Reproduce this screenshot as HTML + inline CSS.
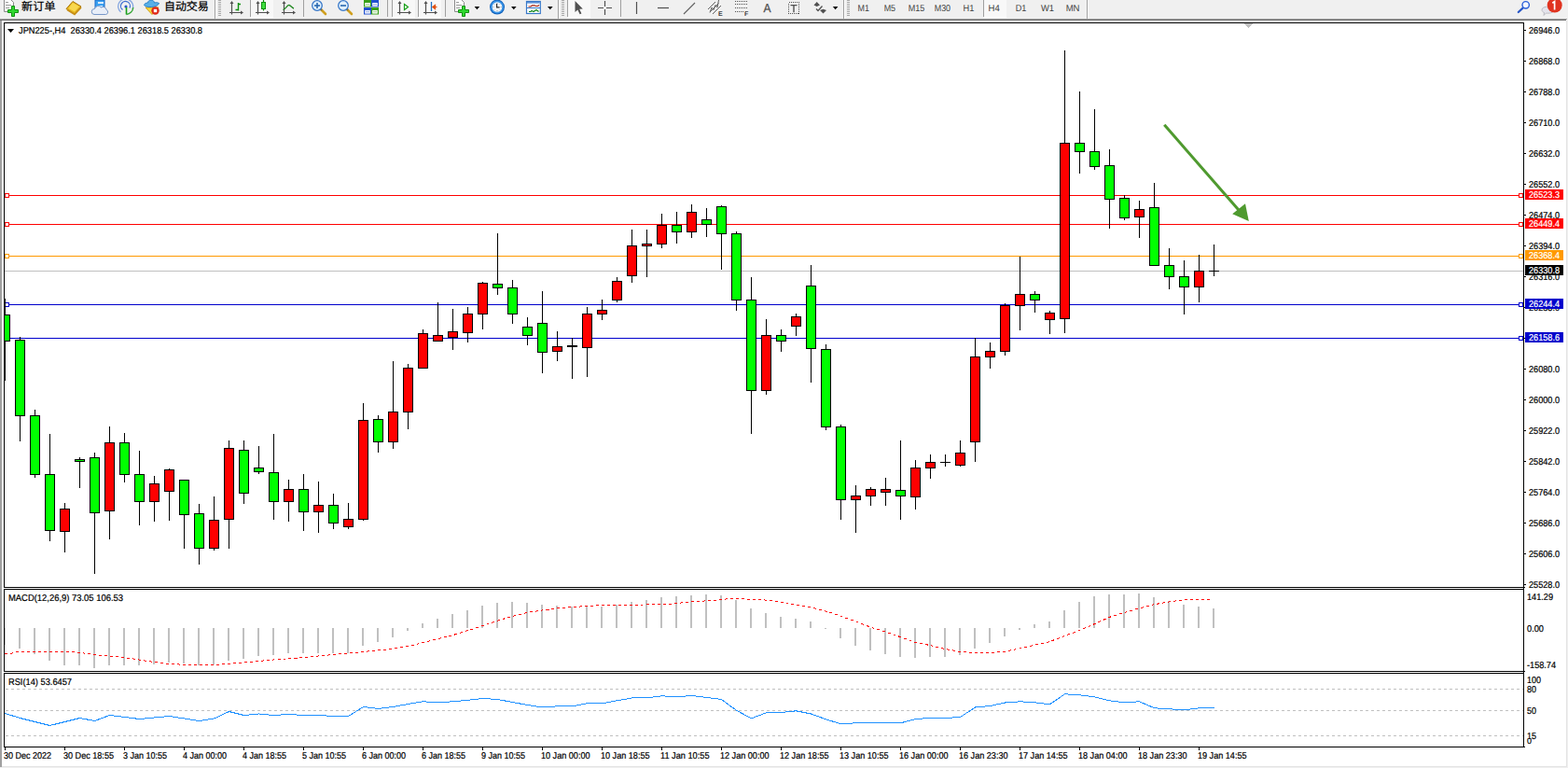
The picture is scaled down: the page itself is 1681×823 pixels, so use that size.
<!DOCTYPE html><html><head><meta charset="utf-8"><title>JPN225 H4</title><style>html,body{margin:0;padding:0;background:#fff;overflow:hidden}</style></head><body><svg width="1681" height="823" viewBox="0 0 1681 823" style="display:block" text-rendering="geometricPrecision" font-family="Liberation Sans, sans-serif" font-size="10">
<g shape-rendering="crispEdges">
<rect x="0" y="0" width="1681" height="823" fill="#fff"/>
<rect x="0" y="0" width="1681" height="20" fill="#f0f0f0"/>
<rect x="0" y="20" width="1680" height="1" fill="#a0a0a0"/>
<rect x="0" y="21" width="1679" height="1" fill="#696969"/>
<rect x="0" y="22" width="2" height="800" fill="#a0a0a0"/>
<rect x="1679" y="22" width="1" height="800" fill="#e3e3e3"/>
<rect x="1680" y="20" width="1" height="803" fill="#f0f0f0"/>
<rect x="2" y="821" width="1678" height="1" fill="#e3e3e3"/>
<rect x="0" y="822" width="1681" height="1" fill="#f0f0f0"/>
<rect x="5" y="290" width="1628" height="1" fill="#c0c0c0"/>
<rect x="5" y="209" width="1628" height="1" fill="#ff0000"/>
<rect x="5" y="207" width="5" height="5" fill="#ff0000"/>
<rect x="6" y="208" width="3" height="3" fill="#fff"/>
<rect x="1628" y="207" width="5" height="5" fill="#ff0000"/>
<rect x="1629" y="208" width="3" height="3" fill="#fff"/>
<rect x="5" y="240" width="1628" height="1" fill="#ff0000"/>
<rect x="5" y="238" width="5" height="5" fill="#ff0000"/>
<rect x="6" y="239" width="3" height="3" fill="#fff"/>
<rect x="1628" y="238" width="5" height="5" fill="#ff0000"/>
<rect x="1629" y="239" width="3" height="3" fill="#fff"/>
<rect x="5" y="274" width="1628" height="1" fill="#ff9900"/>
<rect x="5" y="272" width="5" height="5" fill="#ff9900"/>
<rect x="6" y="273" width="3" height="3" fill="#fff"/>
<rect x="1628" y="272" width="5" height="5" fill="#ff9900"/>
<rect x="1629" y="273" width="3" height="3" fill="#fff"/>
<rect x="5" y="326" width="1628" height="1" fill="#0000cc"/>
<rect x="5" y="324" width="5" height="5" fill="#0000cc"/>
<rect x="6" y="325" width="3" height="3" fill="#fff"/>
<rect x="1628" y="324" width="5" height="5" fill="#0000cc"/>
<rect x="1629" y="325" width="3" height="3" fill="#fff"/>
<rect x="5" y="362" width="1628" height="1" fill="#0000cc"/>
<rect x="5" y="360" width="5" height="5" fill="#0000cc"/>
<rect x="6" y="361" width="3" height="3" fill="#fff"/>
<rect x="1628" y="360" width="5" height="5" fill="#0000cc"/>
<rect x="1629" y="361" width="3" height="3" fill="#fff"/>
<clipPath id="cm"><rect x="5" y="25" width="1628" height="604"/></clipPath><g clip-path="url(#cm)">
<rect x="5" y="320" width="1" height="88" fill="#000"/>
<rect x="0" y="337" width="11" height="29" fill="#000"/>
<rect x="1" y="338" width="9" height="27" fill="#00ff00"/>
<rect x="21" y="361" width="1" height="112" fill="#000"/>
<rect x="16" y="364" width="11" height="82" fill="#000"/>
<rect x="17" y="365" width="9" height="80" fill="#00ff00"/>
<rect x="37" y="439" width="1" height="73" fill="#000"/>
<rect x="32" y="445" width="11" height="64" fill="#000"/>
<rect x="33" y="446" width="9" height="62" fill="#00ff00"/>
<rect x="53" y="465" width="1" height="115" fill="#000"/>
<rect x="48" y="508" width="11" height="61" fill="#000"/>
<rect x="49" y="509" width="9" height="59" fill="#00ff00"/>
<rect x="69" y="539" width="1" height="53" fill="#000"/>
<rect x="64" y="545" width="11" height="25" fill="#000"/>
<rect x="65" y="546" width="9" height="23" fill="#ff0000"/>
<rect x="85" y="490" width="1" height="33" fill="#000"/>
<rect x="80" y="492" width="11" height="3" fill="#000"/>
<rect x="81" y="493" width="9" height="1" fill="#00ff00"/>
<rect x="101" y="485" width="1" height="130" fill="#000"/>
<rect x="96" y="490" width="11" height="60" fill="#000"/>
<rect x="97" y="491" width="9" height="58" fill="#00ff00"/>
<rect x="117" y="457" width="1" height="121" fill="#000"/>
<rect x="112" y="474" width="11" height="74" fill="#000"/>
<rect x="113" y="475" width="9" height="72" fill="#ff0000"/>
<rect x="133" y="464" width="1" height="53" fill="#000"/>
<rect x="128" y="474" width="11" height="35" fill="#000"/>
<rect x="129" y="475" width="9" height="33" fill="#00ff00"/>
<rect x="149" y="483" width="1" height="80" fill="#000"/>
<rect x="144" y="508" width="11" height="30" fill="#000"/>
<rect x="145" y="509" width="9" height="28" fill="#00ff00"/>
<rect x="165" y="510" width="1" height="49" fill="#000"/>
<rect x="160" y="518" width="11" height="20" fill="#000"/>
<rect x="161" y="519" width="9" height="18" fill="#ff0000"/>
<rect x="181" y="502" width="1" height="56" fill="#000"/>
<rect x="176" y="503" width="11" height="24" fill="#000"/>
<rect x="177" y="504" width="9" height="22" fill="#ff0000"/>
<rect x="197" y="514" width="1" height="74" fill="#000"/>
<rect x="192" y="514" width="11" height="38" fill="#000"/>
<rect x="193" y="515" width="9" height="36" fill="#00ff00"/>
<rect x="213" y="540" width="1" height="65" fill="#000"/>
<rect x="208" y="550" width="11" height="38" fill="#000"/>
<rect x="209" y="551" width="9" height="36" fill="#00ff00"/>
<rect x="229" y="532" width="1" height="58" fill="#000"/>
<rect x="224" y="557" width="11" height="31" fill="#000"/>
<rect x="225" y="558" width="9" height="29" fill="#ff0000"/>
<rect x="245" y="472" width="1" height="116" fill="#000"/>
<rect x="240" y="480" width="11" height="77" fill="#000"/>
<rect x="241" y="481" width="9" height="75" fill="#ff0000"/>
<rect x="261" y="472" width="1" height="68" fill="#000"/>
<rect x="256" y="482" width="11" height="47" fill="#000"/>
<rect x="257" y="483" width="9" height="45" fill="#00ff00"/>
<rect x="277" y="478" width="1" height="30" fill="#000"/>
<rect x="272" y="501" width="11" height="5" fill="#000"/>
<rect x="273" y="502" width="9" height="3" fill="#00ff00"/>
<rect x="293" y="465" width="1" height="92" fill="#000"/>
<rect x="288" y="506" width="11" height="32" fill="#000"/>
<rect x="289" y="507" width="9" height="30" fill="#00ff00"/>
<rect x="309" y="514" width="1" height="45" fill="#000"/>
<rect x="304" y="524" width="11" height="14" fill="#000"/>
<rect x="305" y="525" width="9" height="12" fill="#ff0000"/>
<rect x="325" y="508" width="1" height="61" fill="#000"/>
<rect x="320" y="524" width="11" height="25" fill="#000"/>
<rect x="321" y="525" width="9" height="23" fill="#00ff00"/>
<rect x="341" y="516" width="1" height="55" fill="#000"/>
<rect x="336" y="541" width="11" height="8" fill="#000"/>
<rect x="337" y="542" width="9" height="6" fill="#ff0000"/>
<rect x="357" y="529" width="1" height="38" fill="#000"/>
<rect x="352" y="541" width="11" height="20" fill="#000"/>
<rect x="353" y="542" width="9" height="18" fill="#00ff00"/>
<rect x="373" y="539" width="1" height="28" fill="#000"/>
<rect x="368" y="556" width="11" height="9" fill="#000"/>
<rect x="369" y="557" width="9" height="7" fill="#ff0000"/>
<rect x="389" y="432" width="1" height="126" fill="#000"/>
<rect x="384" y="450" width="11" height="107" fill="#000"/>
<rect x="385" y="451" width="9" height="105" fill="#ff0000"/>
<rect x="405" y="445" width="1" height="40" fill="#000"/>
<rect x="400" y="449" width="11" height="25" fill="#000"/>
<rect x="401" y="450" width="9" height="23" fill="#00ff00"/>
<rect x="421" y="387" width="1" height="94" fill="#000"/>
<rect x="416" y="441" width="11" height="33" fill="#000"/>
<rect x="417" y="442" width="9" height="31" fill="#ff0000"/>
<rect x="437" y="390" width="1" height="70" fill="#000"/>
<rect x="432" y="394" width="11" height="48" fill="#000"/>
<rect x="433" y="395" width="9" height="46" fill="#ff0000"/>
<rect x="453" y="353" width="1" height="42" fill="#000"/>
<rect x="448" y="357" width="11" height="38" fill="#000"/>
<rect x="449" y="358" width="9" height="36" fill="#ff0000"/>
<rect x="469" y="324" width="1" height="42" fill="#000"/>
<rect x="464" y="359" width="11" height="7" fill="#000"/>
<rect x="465" y="360" width="9" height="5" fill="#ff0000"/>
<rect x="485" y="331" width="1" height="44" fill="#000"/>
<rect x="480" y="355" width="11" height="7" fill="#000"/>
<rect x="481" y="356" width="9" height="5" fill="#ff0000"/>
<rect x="501" y="329" width="1" height="38" fill="#000"/>
<rect x="496" y="336" width="11" height="21" fill="#000"/>
<rect x="497" y="337" width="9" height="19" fill="#ff0000"/>
<rect x="517" y="302" width="1" height="51" fill="#000"/>
<rect x="512" y="303" width="11" height="34" fill="#000"/>
<rect x="513" y="304" width="9" height="32" fill="#ff0000"/>
<rect x="533" y="250" width="1" height="66" fill="#000"/>
<rect x="528" y="304" width="11" height="5" fill="#000"/>
<rect x="529" y="305" width="9" height="3" fill="#00ff00"/>
<rect x="549" y="300" width="1" height="47" fill="#000"/>
<rect x="544" y="308" width="11" height="29" fill="#000"/>
<rect x="545" y="309" width="9" height="27" fill="#00ff00"/>
<rect x="565" y="340" width="1" height="30" fill="#000"/>
<rect x="560" y="350" width="11" height="10" fill="#000"/>
<rect x="561" y="351" width="9" height="8" fill="#00ff00"/>
<rect x="581" y="312" width="1" height="88" fill="#000"/>
<rect x="576" y="346" width="11" height="32" fill="#000"/>
<rect x="577" y="347" width="9" height="30" fill="#00ff00"/>
<rect x="597" y="355" width="1" height="32" fill="#000"/>
<rect x="592" y="371" width="11" height="6" fill="#000"/>
<rect x="593" y="372" width="9" height="4" fill="#ff0000"/>
<rect x="613" y="362" width="1" height="44" fill="#000"/>
<rect x="608" y="370" width="11" height="2" fill="#000"/>
<rect x="629" y="329" width="1" height="75" fill="#000"/>
<rect x="624" y="336" width="11" height="37" fill="#000"/>
<rect x="625" y="337" width="9" height="35" fill="#ff0000"/>
<rect x="645" y="321" width="1" height="22" fill="#000"/>
<rect x="640" y="332" width="11" height="5" fill="#000"/>
<rect x="641" y="333" width="9" height="3" fill="#ff0000"/>
<rect x="661" y="297" width="1" height="27" fill="#000"/>
<rect x="656" y="301" width="11" height="21" fill="#000"/>
<rect x="657" y="302" width="9" height="19" fill="#ff0000"/>
<rect x="677" y="246" width="1" height="57" fill="#000"/>
<rect x="672" y="263" width="11" height="33" fill="#000"/>
<rect x="673" y="264" width="9" height="31" fill="#ff0000"/>
<rect x="693" y="246" width="1" height="51" fill="#000"/>
<rect x="688" y="261" width="11" height="3" fill="#000"/>
<rect x="689" y="262" width="9" height="1" fill="#ff0000"/>
<rect x="709" y="229" width="1" height="37" fill="#000"/>
<rect x="704" y="241" width="11" height="21" fill="#000"/>
<rect x="705" y="242" width="9" height="19" fill="#ff0000"/>
<rect x="725" y="227" width="1" height="34" fill="#000"/>
<rect x="720" y="241" width="11" height="8" fill="#000"/>
<rect x="721" y="242" width="9" height="6" fill="#00ff00"/>
<rect x="741" y="219" width="1" height="36" fill="#000"/>
<rect x="736" y="227" width="11" height="22" fill="#000"/>
<rect x="737" y="228" width="9" height="20" fill="#ff0000"/>
<rect x="757" y="223" width="1" height="31" fill="#000"/>
<rect x="752" y="235" width="11" height="6" fill="#000"/>
<rect x="753" y="236" width="9" height="4" fill="#00ff00"/>
<rect x="773" y="220" width="1" height="69" fill="#000"/>
<rect x="768" y="221" width="11" height="30" fill="#000"/>
<rect x="769" y="222" width="9" height="28" fill="#00ff00"/>
<rect x="789" y="248" width="1" height="85" fill="#000"/>
<rect x="784" y="250" width="11" height="72" fill="#000"/>
<rect x="785" y="251" width="9" height="70" fill="#00ff00"/>
<rect x="805" y="297" width="1" height="168" fill="#000"/>
<rect x="800" y="321" width="11" height="98" fill="#000"/>
<rect x="801" y="322" width="9" height="96" fill="#00ff00"/>
<rect x="821" y="342" width="1" height="81" fill="#000"/>
<rect x="816" y="359" width="11" height="60" fill="#000"/>
<rect x="817" y="360" width="9" height="58" fill="#ff0000"/>
<rect x="837" y="353" width="1" height="24" fill="#000"/>
<rect x="832" y="359" width="11" height="7" fill="#000"/>
<rect x="833" y="360" width="9" height="5" fill="#00ff00"/>
<rect x="853" y="336" width="1" height="24" fill="#000"/>
<rect x="848" y="339" width="11" height="11" fill="#000"/>
<rect x="849" y="340" width="9" height="9" fill="#ff0000"/>
<rect x="869" y="284" width="1" height="126" fill="#000"/>
<rect x="864" y="306" width="11" height="68" fill="#000"/>
<rect x="865" y="307" width="9" height="66" fill="#00ff00"/>
<rect x="885" y="369" width="1" height="92" fill="#000"/>
<rect x="880" y="374" width="11" height="84" fill="#000"/>
<rect x="881" y="375" width="9" height="82" fill="#00ff00"/>
<rect x="901" y="455" width="1" height="102" fill="#000"/>
<rect x="896" y="457" width="11" height="79" fill="#000"/>
<rect x="897" y="458" width="9" height="77" fill="#00ff00"/>
<rect x="917" y="520" width="1" height="51" fill="#000"/>
<rect x="912" y="531" width="11" height="5" fill="#000"/>
<rect x="913" y="532" width="9" height="3" fill="#ff0000"/>
<rect x="933" y="522" width="1" height="20" fill="#000"/>
<rect x="928" y="524" width="11" height="8" fill="#000"/>
<rect x="929" y="525" width="9" height="6" fill="#ff0000"/>
<rect x="949" y="512" width="1" height="30" fill="#000"/>
<rect x="944" y="524" width="11" height="4" fill="#000"/>
<rect x="945" y="525" width="9" height="2" fill="#ff0000"/>
<rect x="965" y="472" width="1" height="85" fill="#000"/>
<rect x="960" y="525" width="11" height="7" fill="#000"/>
<rect x="961" y="526" width="9" height="5" fill="#00ff00"/>
<rect x="981" y="493" width="1" height="53" fill="#000"/>
<rect x="976" y="501" width="11" height="32" fill="#000"/>
<rect x="977" y="502" width="9" height="30" fill="#ff0000"/>
<rect x="997" y="487" width="1" height="26" fill="#000"/>
<rect x="992" y="495" width="11" height="7" fill="#000"/>
<rect x="993" y="496" width="9" height="5" fill="#ff0000"/>
<rect x="1013" y="487" width="1" height="13" fill="#000"/>
<rect x="1008" y="495" width="11" height="1" fill="#000"/>
<rect x="1029" y="472" width="1" height="28" fill="#000"/>
<rect x="1024" y="485" width="11" height="14" fill="#000"/>
<rect x="1025" y="486" width="9" height="12" fill="#ff0000"/>
<rect x="1045" y="362" width="1" height="133" fill="#000"/>
<rect x="1040" y="382" width="11" height="92" fill="#000"/>
<rect x="1041" y="383" width="9" height="90" fill="#ff0000"/>
<rect x="1061" y="367" width="1" height="28" fill="#000"/>
<rect x="1056" y="376" width="11" height="7" fill="#000"/>
<rect x="1057" y="377" width="9" height="5" fill="#ff0000"/>
<rect x="1077" y="325" width="1" height="56" fill="#000"/>
<rect x="1072" y="327" width="11" height="50" fill="#000"/>
<rect x="1073" y="328" width="9" height="48" fill="#ff0000"/>
<rect x="1093" y="275" width="1" height="79" fill="#000"/>
<rect x="1088" y="315" width="11" height="13" fill="#000"/>
<rect x="1089" y="316" width="9" height="11" fill="#ff0000"/>
<rect x="1109" y="312" width="1" height="23" fill="#000"/>
<rect x="1104" y="315" width="11" height="7" fill="#000"/>
<rect x="1105" y="316" width="9" height="5" fill="#00ff00"/>
<rect x="1125" y="333" width="1" height="25" fill="#000"/>
<rect x="1120" y="335" width="11" height="8" fill="#000"/>
<rect x="1121" y="336" width="9" height="6" fill="#ff0000"/>
<rect x="1141" y="54" width="1" height="303" fill="#000"/>
<rect x="1136" y="153" width="11" height="189" fill="#000"/>
<rect x="1137" y="154" width="9" height="187" fill="#ff0000"/>
<rect x="1157" y="98" width="1" height="88" fill="#000"/>
<rect x="1152" y="153" width="11" height="10" fill="#000"/>
<rect x="1153" y="154" width="9" height="8" fill="#00ff00"/>
<rect x="1173" y="117" width="1" height="65" fill="#000"/>
<rect x="1168" y="162" width="11" height="17" fill="#000"/>
<rect x="1169" y="163" width="9" height="15" fill="#00ff00"/>
<rect x="1189" y="160" width="1" height="85" fill="#000"/>
<rect x="1184" y="177" width="11" height="37" fill="#000"/>
<rect x="1185" y="178" width="9" height="35" fill="#00ff00"/>
<rect x="1205" y="209" width="1" height="27" fill="#000"/>
<rect x="1200" y="212" width="11" height="22" fill="#000"/>
<rect x="1201" y="213" width="9" height="20" fill="#00ff00"/>
<rect x="1221" y="215" width="1" height="40" fill="#000"/>
<rect x="1216" y="224" width="11" height="9" fill="#000"/>
<rect x="1217" y="225" width="9" height="7" fill="#ff0000"/>
<rect x="1237" y="196" width="1" height="89" fill="#000"/>
<rect x="1232" y="222" width="11" height="63" fill="#000"/>
<rect x="1233" y="223" width="9" height="61" fill="#00ff00"/>
<rect x="1253" y="266" width="1" height="44" fill="#000"/>
<rect x="1248" y="284" width="11" height="13" fill="#000"/>
<rect x="1249" y="285" width="9" height="11" fill="#00ff00"/>
<rect x="1269" y="279" width="1" height="58" fill="#000"/>
<rect x="1264" y="296" width="11" height="12" fill="#000"/>
<rect x="1265" y="297" width="9" height="10" fill="#00ff00"/>
<rect x="1285" y="273" width="1" height="51" fill="#000"/>
<rect x="1280" y="290" width="11" height="18" fill="#000"/>
<rect x="1281" y="291" width="9" height="16" fill="#ff0000"/>
<rect x="1301" y="262" width="1" height="34" fill="#000"/>
<rect x="1296" y="290" width="11" height="1" fill="#000"/>
</g>
<path d="M1334 25h9l-4.5 5z" fill="#c0c0c0"/>
<rect x="4" y="24" width="1630" height="1" fill="#000"/>
<rect x="4" y="629" width="1631" height="1" fill="#000"/>
<rect x="4" y="24" width="1" height="606" fill="#000"/>
<rect x="4" y="631" width="1630" height="1" fill="#000"/>
<rect x="4" y="719" width="1631" height="1" fill="#000"/>
<rect x="4" y="631" width="1" height="89" fill="#000"/>
<rect x="4" y="721" width="1630" height="1" fill="#000"/>
<rect x="4" y="800" width="1631" height="1" fill="#000"/>
<rect x="4" y="721" width="1" height="80" fill="#000"/>
<rect x="1633" y="24" width="1" height="777" fill="#000"/>
<rect x="5" y="673" width="1" height="18" fill="#c0c0c0"/>
<rect x="20" y="673" width="2" height="22" fill="#c0c0c0"/>
<rect x="36" y="673" width="2" height="28" fill="#c0c0c0"/>
<rect x="52" y="673" width="2" height="35" fill="#c0c0c0"/>
<rect x="68" y="673" width="2" height="40" fill="#c0c0c0"/>
<rect x="84" y="673" width="2" height="40" fill="#c0c0c0"/>
<rect x="100" y="673" width="2" height="43" fill="#c0c0c0"/>
<rect x="116" y="673" width="2" height="40" fill="#c0c0c0"/>
<rect x="132" y="673" width="2" height="40" fill="#c0c0c0"/>
<rect x="148" y="673" width="2" height="40" fill="#c0c0c0"/>
<rect x="164" y="673" width="2" height="39" fill="#c0c0c0"/>
<rect x="180" y="673" width="2" height="37" fill="#c0c0c0"/>
<rect x="196" y="673" width="2" height="38" fill="#c0c0c0"/>
<rect x="212" y="673" width="2" height="40" fill="#c0c0c0"/>
<rect x="228" y="673" width="2" height="39" fill="#c0c0c0"/>
<rect x="244" y="673" width="2" height="35" fill="#c0c0c0"/>
<rect x="260" y="673" width="2" height="33" fill="#c0c0c0"/>
<rect x="276" y="673" width="2" height="30" fill="#c0c0c0"/>
<rect x="292" y="673" width="2" height="29" fill="#c0c0c0"/>
<rect x="308" y="673" width="2" height="27" fill="#c0c0c0"/>
<rect x="324" y="673" width="2" height="27" fill="#c0c0c0"/>
<rect x="340" y="673" width="2" height="27" fill="#c0c0c0"/>
<rect x="356" y="673" width="2" height="27" fill="#c0c0c0"/>
<rect x="372" y="673" width="2" height="27" fill="#c0c0c0"/>
<rect x="388" y="673" width="2" height="19" fill="#c0c0c0"/>
<rect x="404" y="673" width="2" height="15" fill="#c0c0c0"/>
<rect x="420" y="673" width="2" height="10" fill="#c0c0c0"/>
<rect x="436" y="673" width="2" height="3" fill="#c0c0c0"/>
<rect x="452" y="668" width="2" height="5" fill="#c0c0c0"/>
<rect x="468" y="663" width="2" height="10" fill="#c0c0c0"/>
<rect x="484" y="658" width="2" height="15" fill="#c0c0c0"/>
<rect x="500" y="654" width="2" height="19" fill="#c0c0c0"/>
<rect x="516" y="649" width="2" height="24" fill="#c0c0c0"/>
<rect x="532" y="646" width="2" height="27" fill="#c0c0c0"/>
<rect x="548" y="645" width="2" height="28" fill="#c0c0c0"/>
<rect x="564" y="646" width="2" height="27" fill="#c0c0c0"/>
<rect x="580" y="648" width="2" height="25" fill="#c0c0c0"/>
<rect x="596" y="649" width="2" height="24" fill="#c0c0c0"/>
<rect x="612" y="650" width="2" height="23" fill="#c0c0c0"/>
<rect x="628" y="649" width="2" height="24" fill="#c0c0c0"/>
<rect x="644" y="650" width="2" height="23" fill="#c0c0c0"/>
<rect x="660" y="648" width="2" height="25" fill="#c0c0c0"/>
<rect x="676" y="645" width="2" height="28" fill="#c0c0c0"/>
<rect x="692" y="643" width="2" height="30" fill="#c0c0c0"/>
<rect x="708" y="640" width="2" height="33" fill="#c0c0c0"/>
<rect x="724" y="639" width="2" height="34" fill="#c0c0c0"/>
<rect x="740" y="638" width="2" height="35" fill="#c0c0c0"/>
<rect x="756" y="637" width="2" height="36" fill="#c0c0c0"/>
<rect x="772" y="638" width="2" height="35" fill="#c0c0c0"/>
<rect x="788" y="643" width="2" height="30" fill="#c0c0c0"/>
<rect x="804" y="652" width="2" height="21" fill="#c0c0c0"/>
<rect x="820" y="657" width="2" height="16" fill="#c0c0c0"/>
<rect x="836" y="661" width="2" height="12" fill="#c0c0c0"/>
<rect x="852" y="663" width="2" height="10" fill="#c0c0c0"/>
<rect x="868" y="666" width="2" height="7" fill="#c0c0c0"/>
<rect x="884" y="673" width="2" height="1" fill="#c0c0c0"/>
<rect x="900" y="673" width="2" height="11" fill="#c0c0c0"/>
<rect x="916" y="673" width="2" height="19" fill="#c0c0c0"/>
<rect x="932" y="673" width="2" height="24" fill="#c0c0c0"/>
<rect x="948" y="673" width="2" height="28" fill="#c0c0c0"/>
<rect x="964" y="673" width="2" height="31" fill="#c0c0c0"/>
<rect x="980" y="673" width="2" height="32" fill="#c0c0c0"/>
<rect x="996" y="673" width="2" height="31" fill="#c0c0c0"/>
<rect x="1012" y="673" width="2" height="31" fill="#c0c0c0"/>
<rect x="1028" y="673" width="2" height="29" fill="#c0c0c0"/>
<rect x="1044" y="673" width="2" height="22" fill="#c0c0c0"/>
<rect x="1060" y="673" width="2" height="16" fill="#c0c0c0"/>
<rect x="1076" y="673" width="2" height="9" fill="#c0c0c0"/>
<rect x="1092" y="673" width="2" height="2" fill="#c0c0c0"/>
<rect x="1108" y="669" width="2" height="4" fill="#c0c0c0"/>
<rect x="1124" y="666" width="2" height="7" fill="#c0c0c0"/>
<rect x="1140" y="654" width="2" height="19" fill="#c0c0c0"/>
<rect x="1156" y="645" width="2" height="28" fill="#c0c0c0"/>
<rect x="1172" y="639" width="2" height="34" fill="#c0c0c0"/>
<rect x="1188" y="637" width="2" height="36" fill="#c0c0c0"/>
<rect x="1204" y="637" width="2" height="36" fill="#c0c0c0"/>
<rect x="1220" y="636" width="2" height="37" fill="#c0c0c0"/>
<rect x="1236" y="640" width="2" height="33" fill="#c0c0c0"/>
<rect x="1252" y="644" width="2" height="29" fill="#c0c0c0"/>
<rect x="1268" y="648" width="2" height="25" fill="#c0c0c0"/>
<rect x="1284" y="650" width="2" height="23" fill="#c0c0c0"/>
<rect x="1300" y="652" width="2" height="21" fill="#c0c0c0"/>
<path d="M6 738.5H1633" stroke="#c0c0c0" stroke-width="1" stroke-dasharray="3 3" fill="none"/>
<path d="M6 761.5H1633" stroke="#c0c0c0" stroke-width="1" stroke-dasharray="3 3" fill="none"/>
<path d="M6 788.5H1633" stroke="#c0c0c0" stroke-width="1" stroke-dasharray="3 3" fill="none"/>
</g>
<polyline points="5,700.5 12,700.5 17,698.5 76,698.5 90,700 101,701.5 117,703 133,704.5 149,707 165,709.5 181,711.3 197,712.3 213,712.5 229,712.3 245,711.5 261,710 293,707 325,704.5 357,701.5 389,698.5 405,697 420,695.3 445,690.8 470,684.5 485,680.8 517,670.8 545,661.5 565,656.5 581,654 600,651.5 630,649.5 645,648.5 690,648 720,647 740,645 765,643.3 785,641.3 795,641.3 805,642.5 820,643 838,645.3 840,646.3 870,650.8 890,656.3 917,665.8 933,672 949,677 965,682.5 981,688.3 997,691.5 1013,695.5 1029,698.3 1045,700 1061,699.5 1077,698.3 1093,695 1109,691.3 1125,687.8 1141,681.5 1157,675.8 1173,668.8 1189,661.5 1205,656.5 1221,652 1237,647.8 1253,645 1269,642.8 1285,642.3 1298,642.3" fill="none" stroke="#ff0000" stroke-width="1" stroke-dasharray="3 3" shape-rendering="crispEdges"/>
<polyline points="5.5,764.5 21.5,769.5 37.5,773.5 53.5,777.5 69.5,773.5 85.5,769.5 101.5,772.5 117.5,766.5 133.5,768.5 149.5,770.5 165.5,769.0 181.5,767.5 197.5,770.0 213.5,772.5 229.5,770.0 245.5,762.5 261.5,766.5 277.5,765.0 293.5,766.5 309.5,765.5 325.5,766.5 341.5,766.5 357.5,767.5 373.5,767.5 389.5,757.5 405.5,759.5 421.5,757.5 437.5,754.5 453.5,751.8 469.5,752.8 485.5,751.8 501.5,750.3 517.5,748.5 533.5,749.5 549.5,752.5 565.5,755.5 581.5,758.0 597.5,756.8 613.5,756.8 629.5,753.8 645.5,753.8 661.5,750.8 677.5,748.0 693.5,747.8 709.5,745.8 725.5,746.8 741.5,745.5 757.5,747.5 773.5,749.5 789.5,761.3 805.5,769.8 821.5,763.8 837.5,763.5 853.5,761.8 869.5,765.0 885.5,770.8 901.5,775.8 917.5,774.8 933.5,774.8 949.5,774.8 965.5,774.8 981.5,770.5 997.5,769.5 1013.5,769.5 1029.5,768.5 1045.5,758.0 1061.5,756.5 1077.5,753.0 1093.5,751.8 1109.5,752.8 1125.5,754.8 1141.5,743.8 1157.5,744.8 1173.5,746.8 1189.5,750.8 1205.5,752.8 1221.5,751.8 1237.5,758.8 1253.5,759.8 1269.5,760.8 1285.5,758.8 1301.5,758.8" fill="none" stroke="#1e90ff" stroke-width="1" shape-rendering="crispEdges"/>
<g fill="#4f9a2f" stroke="none"><path d="M1247.1 134.7L1249.4 132.8L1331 226.2L1328.7 228.2Z"/><path d="M1338.8 237L1321.2 229.3L1335 218.2Z"/></g>
<g shape-rendering="crispEdges">
<rect x="1634" y="32" width="2" height="1" fill="#000"/>
<rect x="1634" y="65" width="2" height="1" fill="#000"/>
<rect x="1634" y="98" width="2" height="1" fill="#000"/>
<rect x="1634" y="131" width="2" height="1" fill="#000"/>
<rect x="1634" y="164" width="2" height="1" fill="#000"/>
<rect x="1634" y="197" width="2" height="1" fill="#000"/>
<rect x="1634" y="230" width="2" height="1" fill="#000"/>
<rect x="1634" y="263" width="2" height="1" fill="#000"/>
<rect x="1634" y="296" width="2" height="1" fill="#000"/>
<rect x="1634" y="329" width="2" height="1" fill="#000"/>
<rect x="1634" y="362" width="2" height="1" fill="#000"/>
<rect x="1634" y="395" width="2" height="1" fill="#000"/>
<rect x="1634" y="428" width="2" height="1" fill="#000"/>
<rect x="1634" y="461" width="2" height="1" fill="#000"/>
<rect x="1634" y="494" width="2" height="1" fill="#000"/>
<rect x="1634" y="527" width="2" height="1" fill="#000"/>
<rect x="1634" y="560" width="2" height="1" fill="#000"/>
<rect x="1634" y="593" width="2" height="1" fill="#000"/>
<rect x="1634" y="626" width="2" height="1" fill="#000"/>
</g>
<text transform="translate(1639 36) scale(1 1)" fill="#000" stroke="#000" stroke-width="0.22" textLength="33" lengthAdjust="spacingAndGlyphs" xml:space="preserve">26946.0</text>
<text transform="translate(1639 69) scale(1 1)" fill="#000" stroke="#000" stroke-width="0.22" textLength="33" lengthAdjust="spacingAndGlyphs" xml:space="preserve">26868.0</text>
<text transform="translate(1639 102) scale(1 1)" fill="#000" stroke="#000" stroke-width="0.22" textLength="33" lengthAdjust="spacingAndGlyphs" xml:space="preserve">26788.0</text>
<text transform="translate(1639 135) scale(1 1)" fill="#000" stroke="#000" stroke-width="0.22" textLength="33" lengthAdjust="spacingAndGlyphs" xml:space="preserve">26710.0</text>
<text transform="translate(1639 168) scale(1 1)" fill="#000" stroke="#000" stroke-width="0.22" textLength="33" lengthAdjust="spacingAndGlyphs" xml:space="preserve">26632.0</text>
<text transform="translate(1639 201) scale(1 1)" fill="#000" stroke="#000" stroke-width="0.22" textLength="33" lengthAdjust="spacingAndGlyphs" xml:space="preserve">26552.0</text>
<text transform="translate(1639 234) scale(1 1)" fill="#000" stroke="#000" stroke-width="0.22" textLength="33" lengthAdjust="spacingAndGlyphs" xml:space="preserve">26474.0</text>
<text transform="translate(1639 267) scale(1 1)" fill="#000" stroke="#000" stroke-width="0.22" textLength="33" lengthAdjust="spacingAndGlyphs" xml:space="preserve">26394.0</text>
<text transform="translate(1639 300) scale(1 1)" fill="#000" stroke="#000" stroke-width="0.22" textLength="33" lengthAdjust="spacingAndGlyphs" xml:space="preserve">26316.0</text>
<text transform="translate(1639 333) scale(1 1)" fill="#000" stroke="#000" stroke-width="0.22" textLength="33" lengthAdjust="spacingAndGlyphs" xml:space="preserve">26238.0</text>
<text transform="translate(1639 366) scale(1 1)" fill="#000" stroke="#000" stroke-width="0.22" textLength="33" lengthAdjust="spacingAndGlyphs" xml:space="preserve">26158.0</text>
<text transform="translate(1639 399) scale(1 1)" fill="#000" stroke="#000" stroke-width="0.22" textLength="33" lengthAdjust="spacingAndGlyphs" xml:space="preserve">26080.0</text>
<text transform="translate(1639 432) scale(1 1)" fill="#000" stroke="#000" stroke-width="0.22" textLength="33" lengthAdjust="spacingAndGlyphs" xml:space="preserve">26000.0</text>
<text transform="translate(1639 465) scale(1 1)" fill="#000" stroke="#000" stroke-width="0.22" textLength="33" lengthAdjust="spacingAndGlyphs" xml:space="preserve">25922.0</text>
<text transform="translate(1639 498) scale(1 1)" fill="#000" stroke="#000" stroke-width="0.22" textLength="33" lengthAdjust="spacingAndGlyphs" xml:space="preserve">25842.0</text>
<text transform="translate(1639 531) scale(1 1)" fill="#000" stroke="#000" stroke-width="0.22" textLength="33" lengthAdjust="spacingAndGlyphs" xml:space="preserve">25764.0</text>
<text transform="translate(1639 564) scale(1 1)" fill="#000" stroke="#000" stroke-width="0.22" textLength="33" lengthAdjust="spacingAndGlyphs" xml:space="preserve">25686.0</text>
<text transform="translate(1639 597) scale(1 1)" fill="#000" stroke="#000" stroke-width="0.22" textLength="33" lengthAdjust="spacingAndGlyphs" xml:space="preserve">25606.0</text>
<text transform="translate(1639 630) scale(1 1)" fill="#000" stroke="#000" stroke-width="0.22" textLength="33" lengthAdjust="spacingAndGlyphs" xml:space="preserve">25528.0</text>
<rect x="1635" y="203" width="41" height="11" fill="#ff0000" shape-rendering="crispEdges"/>
<text transform="translate(1639 212) scale(1 1)" fill="#fff" stroke="#fff" stroke-width="0.22" textLength="33" lengthAdjust="spacingAndGlyphs" xml:space="preserve">26523.3</text>
<rect x="1635" y="234" width="41" height="11" fill="#ff0000" shape-rendering="crispEdges"/>
<text transform="translate(1639 243) scale(1 1)" fill="#fff" stroke="#fff" stroke-width="0.22" textLength="33" lengthAdjust="spacingAndGlyphs" xml:space="preserve">26449.4</text>
<rect x="1635" y="268" width="41" height="11" fill="#ff9900" shape-rendering="crispEdges"/>
<text transform="translate(1639 277) scale(1 1)" fill="#fff" stroke="#fff" stroke-width="0.22" textLength="33" lengthAdjust="spacingAndGlyphs" xml:space="preserve">26368.4</text>
<rect x="1635" y="320" width="41" height="11" fill="#0000cc" shape-rendering="crispEdges"/>
<text transform="translate(1639 329) scale(1 1)" fill="#fff" stroke="#fff" stroke-width="0.22" textLength="33" lengthAdjust="spacingAndGlyphs" xml:space="preserve">26244.4</text>
<rect x="1635" y="356" width="41" height="11" fill="#0000cc" shape-rendering="crispEdges"/>
<text transform="translate(1639 365) scale(1 1)" fill="#fff" stroke="#fff" stroke-width="0.22" textLength="33" lengthAdjust="spacingAndGlyphs" xml:space="preserve">26158.6</text>
<rect x="1635" y="284" width="41" height="11" fill="#000000" shape-rendering="crispEdges"/>
<text transform="translate(1639 293) scale(1 1)" fill="#fff" stroke="#fff" stroke-width="0.22" textLength="33" lengthAdjust="spacingAndGlyphs" xml:space="preserve">26330.8</text>
<text transform="translate(1637 643) scale(1 1)" fill="#000" stroke="#000" stroke-width="0.22" textLength="28" lengthAdjust="spacingAndGlyphs" xml:space="preserve">141.29</text>
<text transform="translate(1637 677) scale(1 1)" fill="#000" stroke="#000" stroke-width="0.22" textLength="18" lengthAdjust="spacingAndGlyphs" xml:space="preserve">0.00</text>
<text transform="translate(1637 716) scale(1 1)" fill="#000" stroke="#000" stroke-width="0.22" textLength="31" lengthAdjust="spacingAndGlyphs" xml:space="preserve">-158.74</text>
<text transform="translate(1637 732) scale(1 1)" fill="#000" stroke="#000" stroke-width="0.22" textLength="15" lengthAdjust="spacingAndGlyphs" xml:space="preserve">100</text>
<text transform="translate(1637 742) scale(1 1)" fill="#000" stroke="#000" stroke-width="0.22" textLength="10" lengthAdjust="spacingAndGlyphs" xml:space="preserve">80</text>
<text transform="translate(1637 765) scale(1 1)" fill="#000" stroke="#000" stroke-width="0.22" textLength="10" lengthAdjust="spacingAndGlyphs" xml:space="preserve">50</text>
<text transform="translate(1637 797) scale(1 1)" fill="#000" stroke="#000" stroke-width="0.22" textLength="5" lengthAdjust="spacingAndGlyphs" xml:space="preserve">0</text>
<rect x="1636" y="784" width="12" height="8" fill="#fff"/>
<text transform="translate(1637 792) scale(1 1)" fill="#000" stroke="#000" stroke-width="0.22" textLength="10" lengthAdjust="spacingAndGlyphs" xml:space="preserve">15</text>
<path d="M8 31h7l-3.5 4z" fill="#000"/>
<text transform="translate(20 36) scale(1 1)" fill="#000" stroke="#000" stroke-width="0.22" textLength="197" lengthAdjust="spacingAndGlyphs" xml:space="preserve">JPN225-,H4  26330.4 26396.1 26318.5 26330.8</text>
<text transform="translate(9 644) scale(1 1)" fill="#000" stroke="#000" stroke-width="0.22" textLength="123" lengthAdjust="spacingAndGlyphs" xml:space="preserve">MACD(12,26,9) 73.05 106.53</text>
<text transform="translate(9 734) scale(1 1)" fill="#000" stroke="#000" stroke-width="0.22" textLength="68" lengthAdjust="spacingAndGlyphs" xml:space="preserve">RSI(14) 53.6457</text>
<rect x="5" y="801" width="1" height="3" fill="#000" shape-rendering="crispEdges"/>
<text transform="translate(4 813) scale(1 1)" fill="#000" stroke="#000" stroke-width="0.22" textLength="51" lengthAdjust="spacingAndGlyphs" xml:space="preserve">30 Dec 2022</text>
<rect x="69" y="801" width="1" height="3" fill="#000" shape-rendering="crispEdges"/>
<text transform="translate(68 813) scale(1 1)" fill="#000" stroke="#000" stroke-width="0.22" textLength="54" lengthAdjust="spacingAndGlyphs" xml:space="preserve">30 Dec 18:55</text>
<rect x="133" y="801" width="1" height="3" fill="#000" shape-rendering="crispEdges"/>
<text transform="translate(132 813) scale(1 1)" fill="#000" stroke="#000" stroke-width="0.22" textLength="47" lengthAdjust="spacingAndGlyphs" xml:space="preserve">3 Jan 10:55</text>
<rect x="197" y="801" width="1" height="3" fill="#000" shape-rendering="crispEdges"/>
<text transform="translate(196 813) scale(1 1)" fill="#000" stroke="#000" stroke-width="0.22" textLength="47" lengthAdjust="spacingAndGlyphs" xml:space="preserve">4 Jan 00:00</text>
<rect x="261" y="801" width="1" height="3" fill="#000" shape-rendering="crispEdges"/>
<text transform="translate(260 813) scale(1 1)" fill="#000" stroke="#000" stroke-width="0.22" textLength="47" lengthAdjust="spacingAndGlyphs" xml:space="preserve">4 Jan 18:55</text>
<rect x="325" y="801" width="1" height="3" fill="#000" shape-rendering="crispEdges"/>
<text transform="translate(324 813) scale(1 1)" fill="#000" stroke="#000" stroke-width="0.22" textLength="47" lengthAdjust="spacingAndGlyphs" xml:space="preserve">5 Jan 10:55</text>
<rect x="389" y="801" width="1" height="3" fill="#000" shape-rendering="crispEdges"/>
<text transform="translate(388 813) scale(1 1)" fill="#000" stroke="#000" stroke-width="0.22" textLength="47" lengthAdjust="spacingAndGlyphs" xml:space="preserve">6 Jan 00:00</text>
<rect x="453" y="801" width="1" height="3" fill="#000" shape-rendering="crispEdges"/>
<text transform="translate(452 813) scale(1 1)" fill="#000" stroke="#000" stroke-width="0.22" textLength="47" lengthAdjust="spacingAndGlyphs" xml:space="preserve">6 Jan 18:55</text>
<rect x="517" y="801" width="1" height="3" fill="#000" shape-rendering="crispEdges"/>
<text transform="translate(516 813) scale(1 1)" fill="#000" stroke="#000" stroke-width="0.22" textLength="47" lengthAdjust="spacingAndGlyphs" xml:space="preserve">9 Jan 10:55</text>
<rect x="581" y="801" width="1" height="3" fill="#000" shape-rendering="crispEdges"/>
<text transform="translate(580 813) scale(1 1)" fill="#000" stroke="#000" stroke-width="0.22" textLength="52.5" lengthAdjust="spacingAndGlyphs" xml:space="preserve">10 Jan 00:00</text>
<rect x="645" y="801" width="1" height="3" fill="#000" shape-rendering="crispEdges"/>
<text transform="translate(644 813) scale(1 1)" fill="#000" stroke="#000" stroke-width="0.22" textLength="52.5" lengthAdjust="spacingAndGlyphs" xml:space="preserve">10 Jan 18:55</text>
<rect x="709" y="801" width="1" height="3" fill="#000" shape-rendering="crispEdges"/>
<text transform="translate(708 813) scale(1 1)" fill="#000" stroke="#000" stroke-width="0.22" textLength="52.5" lengthAdjust="spacingAndGlyphs" xml:space="preserve">11 Jan 10:55</text>
<rect x="773" y="801" width="1" height="3" fill="#000" shape-rendering="crispEdges"/>
<text transform="translate(772 813) scale(1 1)" fill="#000" stroke="#000" stroke-width="0.22" textLength="52.5" lengthAdjust="spacingAndGlyphs" xml:space="preserve">12 Jan 00:00</text>
<rect x="837" y="801" width="1" height="3" fill="#000" shape-rendering="crispEdges"/>
<text transform="translate(836 813) scale(1 1)" fill="#000" stroke="#000" stroke-width="0.22" textLength="52.5" lengthAdjust="spacingAndGlyphs" xml:space="preserve">12 Jan 18:55</text>
<rect x="901" y="801" width="1" height="3" fill="#000" shape-rendering="crispEdges"/>
<text transform="translate(900 813) scale(1 1)" fill="#000" stroke="#000" stroke-width="0.22" textLength="52.5" lengthAdjust="spacingAndGlyphs" xml:space="preserve">13 Jan 10:55</text>
<rect x="965" y="801" width="1" height="3" fill="#000" shape-rendering="crispEdges"/>
<text transform="translate(964 813) scale(1 1)" fill="#000" stroke="#000" stroke-width="0.22" textLength="52.5" lengthAdjust="spacingAndGlyphs" xml:space="preserve">16 Jan 00:00</text>
<rect x="1029" y="801" width="1" height="3" fill="#000" shape-rendering="crispEdges"/>
<text transform="translate(1028 813) scale(1 1)" fill="#000" stroke="#000" stroke-width="0.22" textLength="52.5" lengthAdjust="spacingAndGlyphs" xml:space="preserve">16 Jan 23:30</text>
<rect x="1093" y="801" width="1" height="3" fill="#000" shape-rendering="crispEdges"/>
<text transform="translate(1092 813) scale(1 1)" fill="#000" stroke="#000" stroke-width="0.22" textLength="52.5" lengthAdjust="spacingAndGlyphs" xml:space="preserve">17 Jan 14:55</text>
<rect x="1157" y="801" width="1" height="3" fill="#000" shape-rendering="crispEdges"/>
<text transform="translate(1156 813) scale(1 1)" fill="#000" stroke="#000" stroke-width="0.22" textLength="52.5" lengthAdjust="spacingAndGlyphs" xml:space="preserve">18 Jan 04:00</text>
<rect x="1221" y="801" width="1" height="3" fill="#000" shape-rendering="crispEdges"/>
<text transform="translate(1220 813) scale(1 1)" fill="#000" stroke="#000" stroke-width="0.22" textLength="52.5" lengthAdjust="spacingAndGlyphs" xml:space="preserve">18 Jan 23:30</text>
<rect x="1285" y="801" width="1" height="3" fill="#000" shape-rendering="crispEdges"/>
<text transform="translate(1284 813) scale(1 1)" fill="#000" stroke="#000" stroke-width="0.22" textLength="52.5" lengthAdjust="spacingAndGlyphs" xml:space="preserve">19 Jan 14:55</text>
<g id="tb">
<g shape-rendering="crispEdges">
<rect x="230" y="0" width="1" height="20" fill="#a0a0a0"/><rect x="231" y="0" width="1" height="20" fill="#fff"/>
<rect x="598" y="0" width="1" height="20" fill="#a0a0a0"/><rect x="599" y="0" width="1" height="20" fill="#fff"/>
<rect x="904" y="0" width="1" height="20" fill="#a0a0a0"/><rect x="905" y="0" width="1" height="20" fill="#fff"/>
<rect x="1165" y="0" width="1" height="20" fill="#a0a0a0"/><rect x="1166" y="0" width="1" height="20" fill="#fff"/>
<rect x="234" y="0" width="3" height="1" fill="#a8a8a8"/>
<rect x="234" y="2" width="3" height="1" fill="#a8a8a8"/>
<rect x="234" y="4" width="3" height="1" fill="#a8a8a8"/>
<rect x="234" y="6" width="3" height="1" fill="#a8a8a8"/>
<rect x="234" y="8" width="3" height="1" fill="#a8a8a8"/>
<rect x="234" y="10" width="3" height="1" fill="#a8a8a8"/>
<rect x="234" y="12" width="3" height="1" fill="#a8a8a8"/>
<rect x="234" y="14" width="3" height="1" fill="#a8a8a8"/>
<rect x="234" y="16" width="3" height="1" fill="#a8a8a8"/>
<rect x="602" y="0" width="3" height="1" fill="#a8a8a8"/>
<rect x="602" y="2" width="3" height="1" fill="#a8a8a8"/>
<rect x="602" y="4" width="3" height="1" fill="#a8a8a8"/>
<rect x="602" y="6" width="3" height="1" fill="#a8a8a8"/>
<rect x="602" y="8" width="3" height="1" fill="#a8a8a8"/>
<rect x="602" y="10" width="3" height="1" fill="#a8a8a8"/>
<rect x="602" y="12" width="3" height="1" fill="#a8a8a8"/>
<rect x="602" y="14" width="3" height="1" fill="#a8a8a8"/>
<rect x="602" y="16" width="3" height="1" fill="#a8a8a8"/>
<rect x="908" y="0" width="3" height="1" fill="#a8a8a8"/>
<rect x="908" y="2" width="3" height="1" fill="#a8a8a8"/>
<rect x="908" y="4" width="3" height="1" fill="#a8a8a8"/>
<rect x="908" y="6" width="3" height="1" fill="#a8a8a8"/>
<rect x="908" y="8" width="3" height="1" fill="#a8a8a8"/>
<rect x="908" y="10" width="3" height="1" fill="#a8a8a8"/>
<rect x="908" y="12" width="3" height="1" fill="#a8a8a8"/>
<rect x="908" y="14" width="3" height="1" fill="#a8a8a8"/>
<rect x="908" y="16" width="3" height="1" fill="#a8a8a8"/>
<rect x="268" y="0" width="1" height="18" fill="#a0a0a0"/>
<rect x="325" y="0" width="1" height="18" fill="#a0a0a0"/>
<rect x="415" y="0" width="1" height="18" fill="#a0a0a0"/>
<rect x="420" y="0" width="1" height="18" fill="#a0a0a0"/>
<rect x="448" y="0" width="1" height="18" fill="#a0a0a0"/>
<rect x="477" y="0" width="1" height="18" fill="#a0a0a0"/>
<rect x="608" y="0" width="1" height="18" fill="#a0a0a0"/>
<rect x="665" y="0" width="1" height="18" fill="#a0a0a0"/>
<rect x="1054" y="0" width="1" height="18" fill="#a0a0a0"/>
<rect x="269" y="0" width="24" height="18" fill="#f8f8f8"/>
<rect x="269" y="18" width="24" height="1" fill="#fff"/>
<rect x="421" y="0" width="24" height="18" fill="#f8f8f8"/>
<rect x="421" y="18" width="24" height="1" fill="#fff"/>
<rect x="449" y="0" width="24" height="18" fill="#f8f8f8"/>
<rect x="449" y="18" width="24" height="1" fill="#fff"/>
<rect x="609" y="0" width="24" height="18" fill="#f8f8f8"/>
<rect x="609" y="18" width="24" height="1" fill="#fff"/>
<rect x="1055" y="0" width="24" height="18" fill="#f8f8f8"/>
<rect x="1055" y="18" width="24" height="1" fill="#fff"/>
</g>
<text x="23" y="10.6" font-size="12" fill="#000" stroke="#000" stroke-width="0.2" font-family="'Liberation Sans', 'Noto Sans CJK SC', sans-serif" textLength="36.4" lengthAdjust="spacing">新订单</text>
<text x="176" y="10.8" font-size="12" fill="#000" stroke="#000" stroke-width="0.2" font-family="'Liberation Sans', 'Noto Sans CJK SC', sans-serif" textLength="47.7" lengthAdjust="spacing">自动交易</text>
<path d="M4.5 -1V12.5H14.5V2.5L11.5 -0.5Z" fill="#fff" stroke="#8a8a8a" stroke-width="1"/>
<path d="M6 2.5h3M6 5.5h6M6 8.5h4" stroke="#9a9a9a" stroke-width="1"/>
<path d="M12.5 6.5h3v4h4v3h-4v4h-3v-4h-4v-3h4z" fill="#30d830" stroke="#109010" stroke-width="1"/>
<path d="M78 1.5L87 7L80 15L71 9.5Z" fill="#e8b820" stroke="#a87408" stroke-width="1"/><path d="M72 10.5L80 15.5L87 8" fill="none" stroke="#c89018" stroke-width="1.5"/><path d="M78 3L85 7L80 12.5L73.5 9Z" fill="#f8d850"/>
<path d="M102 0H112V12H102Z" fill="#3aa0f0" stroke="#1868c8" stroke-width="1"/><rect x="105" y="2" width="6" height="2" fill="#d8ecff"/><rect x="105" y="6" width="5" height="1.5" fill="#d8ecff"/>
<path d="M101 15.5a3 3 0 0 1 0.5-6a4 4 0 0 1 7-1.5a3.5 3.5 0 0 1 5.5 2.5a2.6 2.6 0 0 1 -0.5 5Z" fill="#e8eef8" stroke="#7898c8" stroke-width="1"/>
<g fill="none" stroke-width="1.3"><path d="M129.5 13A8 8 0 1 1 142 10" stroke="#88a8e0"/><path d="M131.5 10.5A5 5 0 1 1 139 8.5" stroke="#4070d0"/><circle cx="135" cy="7" r="1.6" fill="#2858c8" stroke="none"/><path d="M135.5 8V15.5" stroke="#18a018" stroke-width="1.6"/><path d="M135.5 15.5A8 8 0 0 0 142.8 8" stroke="#38a838" stroke-width="1.4"/></g>
<path d="M156 8L170 8L163 15.5Z" fill="#f8d840" stroke="#d0a010" stroke-width="1"/><path d="M154.5 5.5C156 8.5 169 8.5 170.5 3.5C168 2 166 3 165.5 3C165 -1 159 -1 158.5 3C157 3 155 3.5 154.5 5.5Z" fill="#58b0e8" stroke="#2880c8" stroke-width="1"/><circle cx="166.5" cy="11.5" r="4.2" fill="#e02818"/><rect x="164.8" y="9.8" width="3.4" height="3.4" fill="#fff"/>
<g stroke="#505050" stroke-width="1.2" fill="#505050"><path d="M248.5 2.5V15.5M246 13.5H259" fill="none"/><path d="M248.5 1L246.5 4H250.5Z" stroke="none"/><path d="M261 13.5L258 11.5V15.5Z" stroke="none"/></g>
<path d="M255.5 3V11.5M255.5 4.5H258M252.5 10.5H255.5" stroke="#109010" stroke-width="1.4" fill="none"/>
<g stroke="#505050" stroke-width="1.2" fill="#505050"><path d="M276.5 2.5V15.5M274 13.5H287" fill="none"/><path d="M276.5 1L274.5 4H278.5Z" stroke="none"/><path d="M289 13.5L286 11.5V15.5Z" stroke="none"/></g>
<path d="M282.5 0V11.5" stroke="#109010" stroke-width="1.2"/><rect x="280.5" y="2.5" width="4" height="7" fill="#40e040" stroke="#109010" stroke-width="1"/>
<g stroke="#505050" stroke-width="1.2" fill="#505050"><path d="M304.5 2.5V15.5M302 13.5H315" fill="none"/><path d="M304.5 1L302.5 4H306.5Z" stroke="none"/><path d="M317 13.5L314 11.5V15.5Z" stroke="none"/></g>
<path d="M303.5 10.5C307 9 308 5 310 5.5S313 8.5 315 9" stroke="#208820" stroke-width="1.3" fill="none"/>
<path d="M344 10L349 15" stroke="#d0a020" stroke-width="2.6" stroke-linecap="round"/><path d="M343.5 9.5L345 11" stroke="#807040" stroke-width="2"/>
<circle cx="340" cy="6" r="5.3" fill="#e0f0fc" stroke="#3878c8" stroke-width="1.3"/>
<path d="M337 6H343" stroke="#2868b0" stroke-width="1.6"/>
<path d="M340 3V9" stroke="#2868b0" stroke-width="1.6"/>
<path d="M372 10L377 15" stroke="#d0a020" stroke-width="2.6" stroke-linecap="round"/><path d="M371.5 9.5L373 11" stroke="#807040" stroke-width="2"/>
<circle cx="368" cy="6" r="5.3" fill="#e0f0fc" stroke="#3878c8" stroke-width="1.3"/>
<path d="M365 6H371" stroke="#2868b0" stroke-width="1.6"/>
<rect x="390" y="0" width="8" height="7.5" fill="#38a018"/><rect x="391.2" y="3" width="5.6" height="3.6" fill="#fff"/><rect x="392" y="4.2" width="4" height="1" fill="#38a018" opacity="0.5"/>
<rect x="398" y="0" width="8" height="7.5" fill="#2050d0"/><rect x="399.2" y="3" width="5.6" height="3.6" fill="#fff"/><rect x="400" y="4.2" width="4" height="1" fill="#2050d0" opacity="0.5"/>
<rect x="390" y="8" width="8" height="7.5" fill="#2050d0"/><rect x="391.2" y="11" width="5.6" height="3.6" fill="#fff"/><rect x="392" y="12.2" width="4" height="1" fill="#2050d0" opacity="0.5"/>
<rect x="398" y="8" width="8" height="7.5" fill="#38a018"/><rect x="399.2" y="11" width="5.6" height="3.6" fill="#fff"/><rect x="400" y="12.2" width="4" height="1" fill="#38a018" opacity="0.5"/>
<g stroke="#505050" stroke-width="1.2" fill="#505050"><path d="M428.5 2.5V15.5M426 13.5H439" fill="none"/><path d="M428.5 1L426.5 4H430.5Z" stroke="none"/><path d="M441 13.5L438 11.5V15.5Z" stroke="none"/></g>
<path d="M433.5 4.5V10.5L437.5 7.5Z" fill="#fff" stroke="#18a018" stroke-width="1.2"/>
<g stroke="#505050" stroke-width="1.2" fill="#505050"><path d="M456.5 2.5V15.5M454 13.5H467" fill="none"/><path d="M456.5 1L454.5 4H458.5Z" stroke="none"/><path d="M469 13.5L466 11.5V15.5Z" stroke="none"/></g>
<path d="M462.5 2V12" stroke="#2070c0" stroke-width="1.3"/><path d="M463.5 7.5H468.5M466.5 5.5L463.8 7.5L466.5 9.5Z" stroke="#e05010" stroke-width="1.2" fill="#e05010"/>
<path d="M487.5 -1V12.5H497.5V2.5L494.5 -0.5Z" fill="#fff" stroke="#8a8a8a" stroke-width="1"/>
<path d="M489 2.5h3M489 5.5h6M489 8.5h4" stroke="#9a9a9a" stroke-width="1"/>
<path d="M495.5 6.5h3v4h4v3h-4v4h-3v-4h-4v-3h4z" fill="#30d830" stroke="#109010" stroke-width="1"/>
<path d="M508.6 7H514.2L511.40000000000003 10.2Z" fill="#000"/>
<rect x="531.5" y="-1" width="3" height="2" fill="#1560b8"/><circle cx="533" cy="7.6" r="8" fill="#1262bc"/><circle cx="533" cy="7.4" r="7" fill="#3a94e6"/><circle cx="533" cy="7.5" r="5.3" fill="#f4f7fa"/><g fill="#8a8a8a"><circle cx="533" cy="3.4" r="0.5"/><circle cx="533" cy="11.6" r="0.5"/><circle cx="528.9" cy="7.5" r="0.5"/><circle cx="537.1" cy="7.5" r="0.5"/><circle cx="530.1" cy="4.6" r="0.4"/><circle cx="535.9" cy="4.6" r="0.4"/><circle cx="530.1" cy="10.4" r="0.4"/><circle cx="535.9" cy="10.4" r="0.4"/></g><path d="M532.6 4V7.8H535.6" stroke="#282828" stroke-width="1.2" fill="none"/>
<path d="M548 7H553.6L550.8 10.2Z" fill="#000"/>
<rect x="564.5" y="1.5" width="14.8" height="13" fill="#fff" stroke="#3878c8" stroke-width="1.2"/><rect x="565" y="2" width="13.8" height="1.6" fill="#5890d8"/><path d="M565 8.5H579" stroke="#3878c8" stroke-width="1"/><path d="M566.5 7L569 7L570.5 5.8L573 5.8L574.5 6.5L576.5 6.5L578 5.5" stroke="#a01808" stroke-width="1.2" fill="none"/><path d="M567 12.5L569 12.5L570 11.5L572 12.5L575 10.5L577.5 12.5" stroke="#108818" stroke-width="1.2" fill="none"/>
<path d="M587 7H592.6L589.8 10.2Z" fill="#000"/>
<path d="M616.5 1V13L619.3 10.6L621.6 15.2L623.4 14.4L621.2 9.8L624.8 9.4Z" fill="#505050"/>
<path d="M648.5 1V7M648.5 10V16M641 8.5H647M650 8.5H656" stroke="#505050" stroke-width="1.2"/>
<path d="M682.5 2V15" stroke="#505050" stroke-width="1.2"/>
<path d="M705 8.5H717" stroke="#505050" stroke-width="1.2"/>
<path d="M733 15L745 3" stroke="#606060" stroke-width="1.1"/>
<g stroke="#505050" stroke-width="0.9" fill="none"><path d="M759 10L767 2M761.5 12.5L770.5 3.5M764 15L773 6"/><path d="M761 13.5L763 8L765 10.5L767 5.5L769 8L770.5 0"/></g>
<text x="770" y="17" font-size="7" font-weight="bold" fill="#404040">E</text>
<path d="M788 1.5H802" stroke="#505050" stroke-width="1" stroke-dasharray="1 1"/>
<path d="M788 4.5H802" stroke="#505050" stroke-width="1" stroke-dasharray="1 1"/>
<path d="M788 8.5H802" stroke="#505050" stroke-width="1" stroke-dasharray="1 1"/>
<path d="M788 12.5H797" stroke="#505050" stroke-width="1" stroke-dasharray="1 1"/>
<text x="798" y="17" font-size="7" font-weight="bold" fill="#404040">F</text>
<text x="818.6" y="13" font-size="13" fill="#505050" stroke="#505050" stroke-width="0.3" textLength="8" lengthAdjust="spacingAndGlyphs">A</text>
<rect x="845.5" y="2.5" width="11" height="12" fill="none" stroke="#505050" stroke-width="1" stroke-dasharray="1 1" shape-rendering="crispEdges"/><path d="M847.5 5.6H854.5M851 5.6V13.2" stroke="#505050" stroke-width="1.4" fill="none"/>
<path d="M872.5 5.5L875.7 2L879 5.5L875.7 7Z" fill="#505050"/><path d="M879 11L882.5 14.5L886 11L882.5 9.8Z" fill="#505050"/><path d="M875 9.5L877 11.5L881.5 6.5" stroke="#505050" stroke-width="1.3" fill="none"/>
<path d="M892.8 7H898.4L895.5999999999999 10.2Z" fill="#000"/>
<text x="919.6" y="12" font-size="10" fill="#404040" textLength="12.4" lengthAdjust="spacingAndGlyphs">M1</text>
<text x="947.7" y="12" font-size="10" fill="#404040" textLength="12.4" lengthAdjust="spacingAndGlyphs">M5</text>
<text x="973.7" y="12" font-size="10" fill="#404040" textLength="17.6" lengthAdjust="spacingAndGlyphs">M15</text>
<text x="1001.7" y="12" font-size="10" fill="#404040" textLength="17.4" lengthAdjust="spacingAndGlyphs">M30</text>
<text x="1032.5" y="12" font-size="10" fill="#404040" textLength="11.8" lengthAdjust="spacingAndGlyphs">H1</text>
<text x="1059.6" y="12" font-size="10" fill="#404040" textLength="12.2" lengthAdjust="spacingAndGlyphs">H4</text>
<text x="1088.7" y="12" font-size="10" fill="#404040" textLength="11.7" lengthAdjust="spacingAndGlyphs">D1</text>
<text x="1116" y="12" font-size="10" fill="#404040" textLength="14" lengthAdjust="spacingAndGlyphs">W1</text>
<text x="1142.7" y="12" font-size="10" fill="#404040" textLength="14.8" lengthAdjust="spacingAndGlyphs">MN</text>
<path d="M1632.6 8.6L1627.8 13" stroke="#2858c8" stroke-width="2.2" stroke-linecap="round"/><circle cx="1635.7" cy="5.3" r="3.7" fill="#f4f8ff" stroke="#2a5fd8" stroke-width="1.4"/>
<path d="M1653 10.5C1653 6 1666 6 1666 10.5C1666 14 1660 14.5 1657.5 14L1655 16.5L1655.5 13.5C1654 13 1653 12 1653 10.5Z" fill="#e4e4ec" stroke="#b0b0b8" stroke-width="0.8"/>
<circle cx="1666.7" cy="5.6" r="8" fill="#e03420"/><path d="M1664.3 3.2L1666.6 1.6V10.4" stroke="#fff" stroke-width="1.7" fill="none"/>
</g>
</svg></body></html>
